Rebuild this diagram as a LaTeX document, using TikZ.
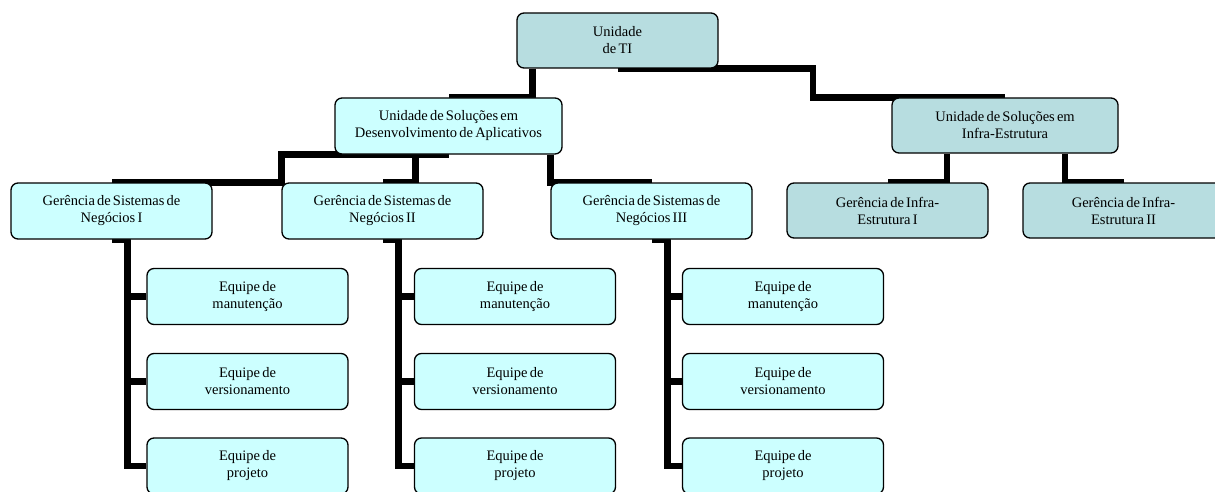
\documentclass[tikz,border=0pt]{standalone}
\usepackage{fontspec}
\setmainfont{Liberation Serif}[WordSpace=0.6]
\usetikzlibrary{backgrounds}
\definecolor{devcyan}{RGB}{204,255,255}
\definecolor{infrateal}{RGB}{183,221,224}

\begin{document}
\begin{tikzpicture}[x=1pt,y=-1pt,
    box/.style={draw,line width=1.3pt,rounded corners=7pt,minimum width=201pt,
        minimum height=56pt,align=center,inner sep=0pt,
        font=\fontsize{14.5}{17}\selectfont},
    devbox/.style={box,fill=devcyan},
    infrabox/.style={box,fill=infrateal},
    link/.style={line width=6.5pt}]
\useasboundingbox (0,0) rectangle (1215,492);

\node[infrabox,minimum height=55pt] (ti) at (617.5,40.5) {Unidade\\de TI};
\node[devbox,minimum width=227pt] (dev) at (448.5,126) {Unidade de Soluções em\\Desenvolvimento de Aplicativos};
\node[infrabox,minimum width=226pt,minimum height=55pt] (inf) at (1005,125.5) {Unidade de Soluções em\\Infra-Estrutura};

\foreach \g/\x/\r in {1/111.5/I,2/382.5/II,3/651.5/III} {
    \node[devbox] (gsn\g) at (\x,211) {Gerência de Sistemas de\\Negócios \r};
}
\node[infrabox,minimum height=55pt] (gi1) at (887.5,210.5) {Gerência de Infra-\\Estrutura I};
\node[infrabox,minimum height=55pt] (gi2) at (1123.5,210.5) {Gerência de Infra-\\Estrutura II};

\foreach \g/\x in {1/247.5,2/515,3/783} {
    \node[devbox] (eq\g1) at (\x,296.5) {Equipe de\\manutenção};
    \node[devbox] (eq\g2) at (\x,381.5) {Equipe de\\versionamento};
    \node[devbox] (eq\g3) at (\x,466) {Equipe de\\projeto};
}

\begin{scope}[on background layer]
\draw[link] ([xshift=16pt]ti.south west) |- (dev.north);
\draw[link] (ti.south) -- ++(195.5,0) |- (inf.north);
\draw[link] (dev.south) -- ++(-167,0) |- (gsn1.north);
\draw[link] (dev.south) -- ++(-33,0) |- (gsn2.north);
\draw[link] ([xshift=-12pt]dev.south east) |- (gsn3.north);
\draw[link] ([xshift=-58pt]inf.south) |- (gi1.north);
\draw[link] ([xshift=60pt]inf.south) |- (gi2.north);
\foreach \g in {1,2,3} {
    \foreach \k in {1,2,3} {
        \draw[link] (gsn\g.south) -- ++(16,0) |- (eq\g\k.west);
    }
}
\end{scope}
\end{tikzpicture}
\end{document}
